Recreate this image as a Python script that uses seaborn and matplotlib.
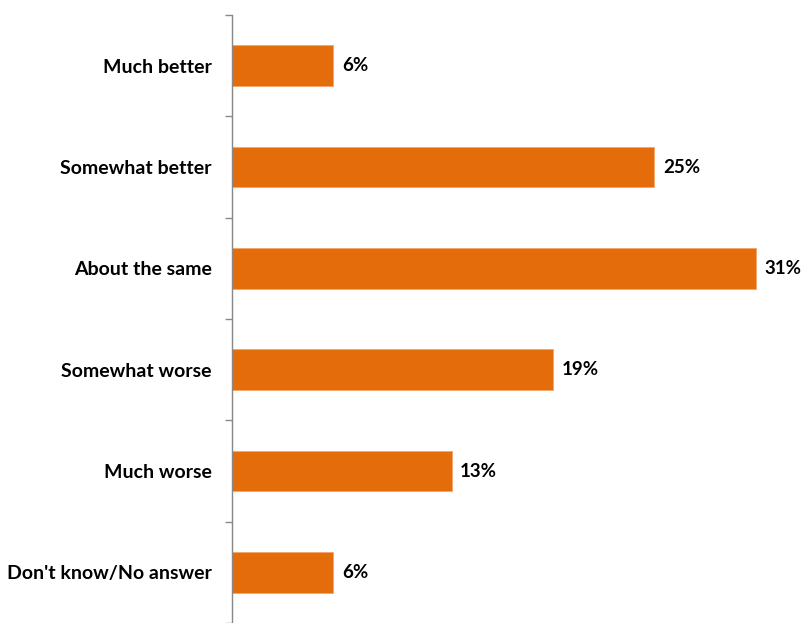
import matplotlib
matplotlib.use("Agg")
import matplotlib.pyplot as plt
import seaborn as sns
import pandas as pd
import numpy as np

categories = ["Much better", "Somewhat better", "About the same",
              "Somewhat worse", "Much worse", "Don't know/No answer"]
values = [6, 25, 31, 19, 13, 6]

df = pd.DataFrame({"category": categories, "value": values})

sns.set_theme(style="white")
plt.rcParams["font.family"] = ["Lato", "DejaVu Sans"]

W, H = 809, 623
fig = plt.figure(figsize=(W / 100, H / 100), dpi=100)
ax_left, ax_top = 232, 15
ax = fig.add_axes([ax_left / W, 0, (W - ax_left) / W, (H - ax_top) / H])

sns.barplot(data=df, y="category", x="value", orient="h", color="#E46C0A",
            width=0.404, saturation=1, edgecolor="#F4A46A", linewidth=0.6, ax=ax)

step = 102.2
ax.set_ylim(-0.5 + (H - ax_top) / step, -0.5)
ax.set_xlim(0, (W - ax_left) / 16.9)

for i, v in enumerate(values):
    ax.text(v + 0.5, i, f"{v}%", va="center", ha="left",
            fontsize=13.5, fontweight="bold", color="black")

ax.set_xlabel("")
ax.set_ylabel("")
ax.set_xticks([])
ax.set_yticks(range(len(categories)))
ax.set_yticklabels(categories, fontsize=14, fontweight="bold", color="black")
ax.tick_params(axis="y", which="major", length=0, pad=14.5)
ax.set_yticks(np.arange(-0.5, len(categories), 1.0), minor=True)
ax.tick_params(axis="y", which="minor", length=5, width=1, color="#888888", left=True)

for s in ["top", "right", "bottom"]:
    ax.spines[s].set_visible(False)
ax.spines["left"].set_color("#888888")
ax.spines["left"].set_linewidth(1)

fig.savefig("out.png", dpi=100)
